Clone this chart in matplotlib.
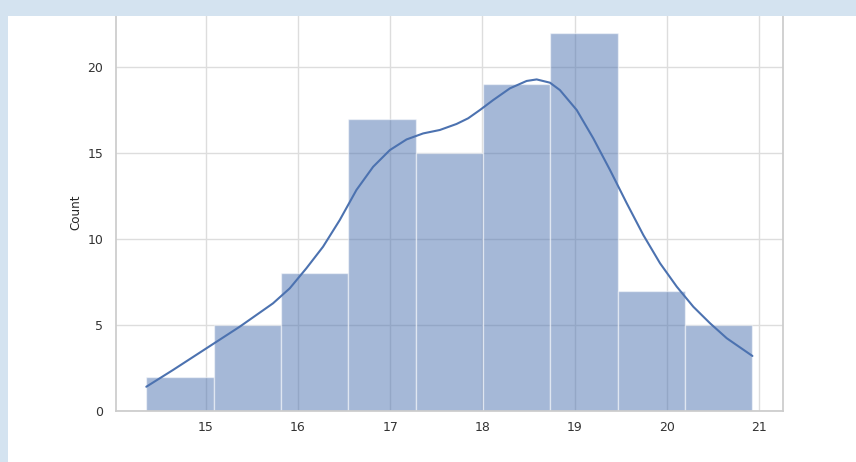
import numpy as np
import matplotlib
matplotlib.use("Agg")
import matplotlib.pyplot as plt
import seaborn as sns
from matplotlib.patches import Rectangle

# Histogram: 9 equal bins between the sample minimum and maximum
value_min = 14.357
value_max = 20.925
counts = [2, 5, 8, 17, 15, 19, 22, 7, 5]

# Kernel density estimate, scaled to counts
kde_x = [14.357, 14.645, 15.007, 15.369, 15.730, 15.911, 16.092, 16.272, 16.453,
         16.634, 16.815, 16.996, 17.177, 17.357, 17.538, 17.719, 17.845, 17.972,
         18.116, 18.297, 18.478, 18.587, 18.731, 18.839, 19.021, 19.201, 19.382,
         19.563, 19.743, 19.924, 20.105, 20.285, 20.466, 20.647, 20.925]
kde_y = [1.41, 2.38, 3.64, 4.90, 6.26, 7.13, 8.30, 9.55, 11.10,
         12.85, 14.20, 15.17, 15.79, 16.14, 16.34, 16.69, 17.02, 17.50,
         18.08, 18.76, 19.19, 19.28, 19.09, 18.66, 17.50, 15.85, 14.01,
         12.08, 10.23, 8.59, 7.23, 6.06, 5.10, 4.23, 3.20]

x_ticks = [15, 16, 17, 18, 19, 20, 21]
y_ticks = [0, 5, 10, 15, 20]

sns.set_theme(style="whitegrid")
plt.rcParams["font.family"] = ["DejaVu Sans"]

fig = plt.figure(figsize=(8.56, 4.62), dpi=100)
ax = fig.add_axes([0.1355, 0.1104, 0.7789, 0.8599])

blue = sns.color_palette()[0]
edges = np.linspace(value_min, value_max, len(counts) + 1)
ax.bar(edges[:-1], counts, width=np.diff(edges), align="edge",
       color=blue, alpha=0.5, edgecolor="white", linewidth=1)
ax.plot(kde_x, kde_y, color=blue, linewidth=1.5, solid_joinstyle="round")

span = value_max - value_min
ax.set_xlim(value_min - 0.05 * span, value_max + 0.05 * span)
ax.set_ylim(0, max(counts) * 1.05)
ax.set_xticks(x_ticks)
ax.set_yticks(y_ticks)
ax.set_ylabel("Count", fontsize=8.6, labelpad=4, color="#262626")
ax.tick_params(axis="both", labelsize=9, length=0, colors="#333333")
ax.tick_params(axis="x", pad=7.5)
ax.tick_params(axis="y", pad=9)
ax.grid(True, color="#dddddd", linewidth=1)
ax.set_axisbelow(True)
for s in ax.spines.values():
    s.set_color("#cccccc")
    s.set_linewidth(1.25)

# Light blue frame along the top and left edges
frame_color = "#d4e3f0"
W, H = 856, 462
fig.patches.append(Rectangle((0, 1 - 16 / H), 1, 16 / H, transform=fig.transFigure,
                             facecolor=frame_color, edgecolor="none", zorder=10))
fig.patches.append(Rectangle((0, 0), 8 / W, 1, transform=fig.transFigure,
                             facecolor=frame_color, edgecolor="none", zorder=10))

fig.savefig("out.png", dpi=100)
